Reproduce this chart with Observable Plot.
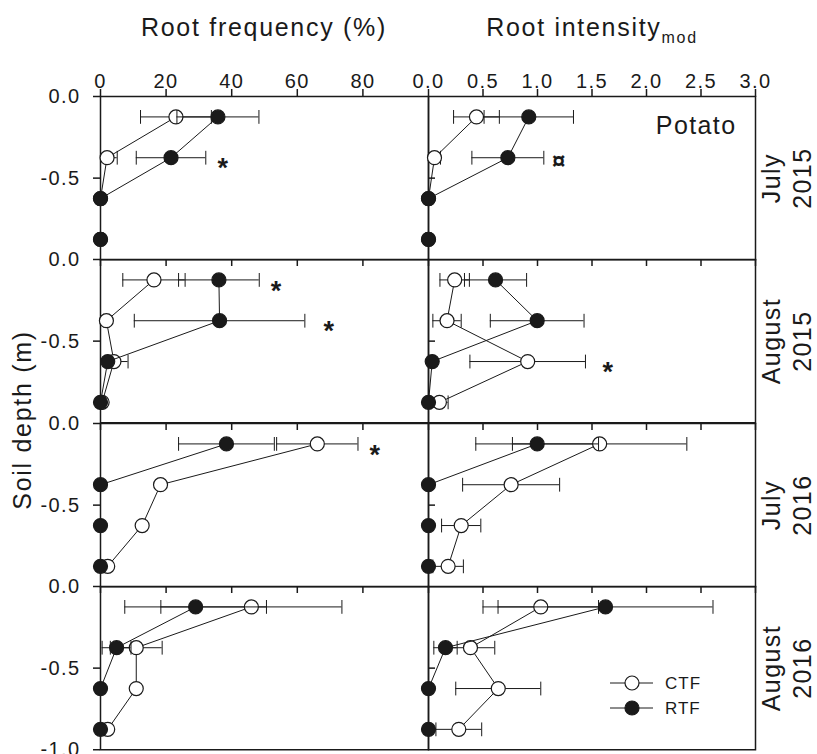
<!DOCTYPE html>
<html>
<head>
<meta charset="utf-8">
<script src="https://cdn.jsdelivr.net/npm/d3@7"></script>
<script src="https://cdn.jsdelivr.net/npm/@observablehq/plot@0.6"></script>
<style>
  body { margin: 0; background: #fff; }
  #chart { position: relative; width: 817px; height: 754px; font-family: "Liberation Sans", Arial, Helvetica, sans-serif; }
  #chart > svg { position: absolute; }
</style>
</head>
<body>
<div id="chart"></div>
<script>
// ---------------- data ----------------
const depths = [-0.125, -0.375, -0.625, -0.875];
const rowLabels = ["July\n2015", "August\n2015", "July\n2016", "August\n2016"];
const series = ["CTF", "RTF"];
const freqTicks = [0, 20, 40, 60, 80];
const intTicks = [0, 0.5, 1, 1.5, 2, 2.5, 3];
const depthTicks = [0, -0.5];
const depthTicksBottom = [0, -0.5, -1];

// Root frequency (%) — rows: July 2015, August 2015, July 2016, August 2016; columns: depths
const freqCTF    = [[23.0, 2.0, 0, 0], [16.3, 1.8, 4.1, 0.5], [66.1, 18.3, 12.7, 2.2], [46.0, 10.9, 10.9, 2.2]];
const freqCTFerr = [[10.8, 3.1, 0, 0], [9.5, 0.8, 4.3, 0], [12.4, 0, 0, 0], [27.6, 7.9, 0, 0]];
const freqRTF    = [[35.8, 21.5, 0, 0], [36.1, 36.3, 2.2, 0], [38.4, 0, 0, 0], [29.0, 4.9, 0, 0]];
const freqRTFerr = [[12.5, 10.6, 0, 0], [12.3, 26.0, 0, 0], [14.6, 0, 0, 0], [21.6, 4.4, 0, 0]];

// Root intensity_mod
const intCTF    = [[0.44, 0.055, 0, 0], [0.24, 0.17, 0.91, 0.10], [1.57, 0.758, 0.30, 0.18], [1.03, 0.385, 0.64, 0.278]];
const intCTFerr = [[0.21, 0.055, 0, 0], [0.135, 0.13, 0.53, 0.08], [0.80, 0.445, 0.18, 0.14], [0.53, 0.223, 0.39, 0.21]];
const intRTF    = [[0.92, 0.728, 0, 0], [0.615, 0.997, 0.034, 0], [0.997, 0, 0, 0], [1.624, 0.156, 0, 0]];
const intRTFerr = [[0.41, 0.33, 0, 0], [0.285, 0.43, 0, 0], [0.563, 0, 0, 0], [0.986, 0.107, 0, 0]];

// significance marks
const signif = [
  {row: 0, col: 0, x: 37.5, depth: -0.375, label: "*"},
  {row: 0, col: 1, x: 1.20, depth: -0.375, label: "¤"},
  {row: 1, col: 0, x: 53.7, depth: -0.125, label: "*"},
  {row: 1, col: 0, x: 69.8, depth: -0.375, label: "*"},
  {row: 1, col: 1, x: 1.65, depth: -0.625, label: "*"},
  {row: 2, col: 0, x: 83.8, depth: -0.125, label: "*"}
];

// ---------------- layout ----------------
const INK = "#1a1a1a";
const FONT = '"Liberation Sans", Arial, Helvetica, sans-serif';
const T0 = 96, RH = 163.25;
const colLeft = [100, 428], colW = [328, 327];
const capShape = {draw(ctx, l) { ctx.moveTo(0, -l / 2); ctx.lineTo(0, l / 2); }};
const root = document.getElementById("chart");

function panel(row, col) {
  const left = col === 0;
  const mt = row === 0 ? 45 : 10, mb = 10;
  const ml = left ? 100 : 10, mr = left ? 10 : 62;
  const fw = colW[col];
  const vals = left ? [freqCTF, freqRTF] : [intCTF, intRTF];
  const errs = left ? [freqCTFerr, freqRTFerr] : [intCTFerr, intRTFerr];
  const xt = left ? freqTicks : intTicks;
  const fmt = left ? (d) => String(d) : (d) => d.toFixed(1);

  const marks = [Plot.frame({stroke: INK, strokeWidth: 1.5})];
  if (row === 0) {
    marks.push(Plot.axisX({ticks: xt, anchor: "top", tickSize: 8, tickPadding: 1, tickFormat: fmt, label: null, strokeWidth: 1.5, fill: INK, stroke: INK}));
  } else {
    marks.push(Plot.ruleX(xt, {x: (d) => d, insetBottom: RH - 7, stroke: INK, strokeWidth: 1.5}));
  }
  if (left) {
    marks.push(Plot.axisY({ticks: row === 3 ? depthTicksBottom : depthTicks, anchor: "left", tickSize: 7, tickPadding: 13,
      tickFormat: (d) => d.toFixed(1), label: null, strokeWidth: 1.5, fill: INK, stroke: INK}));
  } else {
    marks.push(Plot.ruleY(depthTicks.filter((d) => d !== 0), {y: (d) => d, insetRight: fw - 7, stroke: INK, strokeWidth: 1.5}));
    marks.push(Plot.text([rowLabels[row]], {text: (d) => d, frameAnchor: "right", rotate: -90, dx: 30, fontSize: 25,
      lineHeight: 1.24, textAnchor: "middle", lineAnchor: "middle", fill: INK}));
  }
  if (row === 0 && col === 1) {
    marks.push(Plot.text(["Potato"], {text: (d) => d, frameAnchor: "top-right", dx: -19, dy: 20, fontSize: 25,
      textAnchor: "end", lineAnchor: "top", fill: INK}));
  }

  series.forEach((s, si) => {
    const sd = depths.map((d, di) => ({series: s, depth: d, v: vals[si][row][di], e: errs[si][row][di]}));
    const ed = sd.filter((d) => d.e > 0);
    marks.push(
      Plot.line(sd, {x: "v", y: "depth", stroke: INK, strokeWidth: 1}),
      Plot.ruleY(ed, {y: "depth", x1: (d) => d.v - d.e, x2: (d) => d.v + d.e, stroke: INK, strokeWidth: 1, clip: true}),
      Plot.vector(ed, {x: (d) => d.v - d.e, y: "depth", length: 13, rotate: 0, anchor: "start", shape: capShape, stroke: INK, strokeWidth: 1, clip: true}),
      Plot.vector(ed, {x: (d) => d.v + d.e, y: "depth", length: 13, rotate: 0, anchor: "start", shape: capShape, stroke: INK, strokeWidth: 1, clip: true}),
      Plot.dot(sd, {x: "v", y: "depth", r: 7, fill: si === 0 ? "white" : INK, stroke: INK, strokeWidth: 1.2})
    );
  });

  const sig = signif.filter((a) => a.row === row && a.col === col);
  marks.push(Plot.text(sig.filter((a) => a.label === "*"), {x: "x", y: "depth", text: "label", fontSize: 27, fontWeight: "bold", dy: 11, fill: INK}));
  marks.push(Plot.text(sig.filter((a) => a.label !== "*"), {x: "x", y: "depth", text: "label", fontSize: 24, fontWeight: "bold", dy: 4, fill: INK}));

  const p = Plot.plot({
    width: ml + fw + mr,
    height: mt + RH + mb,
    marginLeft: ml, marginRight: mr, marginTop: mt, marginBottom: mb,
    x: {domain: left ? [0, 100] : [0, 3], axis: null},
    y: {domain: [-1, 0], axis: null},
    style: {background: "transparent", overflow: "visible", fontFamily: FONT, fontSize: "20px", letterSpacing: "1.4px", color: INK},
    marks
  });
  p.style.position = "absolute";
  p.style.left = (colLeft[col] - ml) + "px";
  p.style.top = (T0 + row * RH - mt) + "px";
  root.appendChild(p);
}

for (let r = 0; r < 4; r++) for (let c = 0; c < 2; c++) panel(r, c);

// ---------------- titles, axis label, legend ----------------
const ov = d3.create("svg").attr("width", 817).attr("height", 754)
  .style("left", "0px").style("top", "0px").style("pointer-events", "none")
  .style("font-family", FONT).style("letter-spacing", "1.7px").attr("fill", INK);

ov.append("text").attr("x", 264).attr("y", 36).attr("text-anchor", "middle").attr("font-size", 25).text("Root frequency (%)");
const t2 = ov.append("text").attr("x", 592).attr("y", 36).attr("text-anchor", "middle").attr("font-size", 25);
t2.append("tspan").text("Root intensity");
t2.append("tspan").attr("font-size", 16).attr("dy", 7).text("mod");
ov.append("text").attr("transform", "translate(31,420) rotate(-90)").attr("text-anchor", "middle").attr("font-size", 25).text("Soil depth (m)");

const lg = ov.append("g").attr("font-size", 17).style("letter-spacing", "1px");
series.forEach((s, i) => {
  const y = 683 + i * 25;
  lg.append("line").attr("x1", 610).attr("x2", 653).attr("y1", y).attr("y2", y).attr("stroke", INK).attr("stroke-width", 1);
  lg.append("circle").attr("cx", 632).attr("cy", y).attr("r", 7).attr("fill", i === 0 ? "white" : INK).attr("stroke", INK).attr("stroke-width", 1.2);
  lg.append("text").attr("x", 665).attr("y", y + 6).text(s);
});
root.appendChild(ov.node());
</script>
</body>
</html>
